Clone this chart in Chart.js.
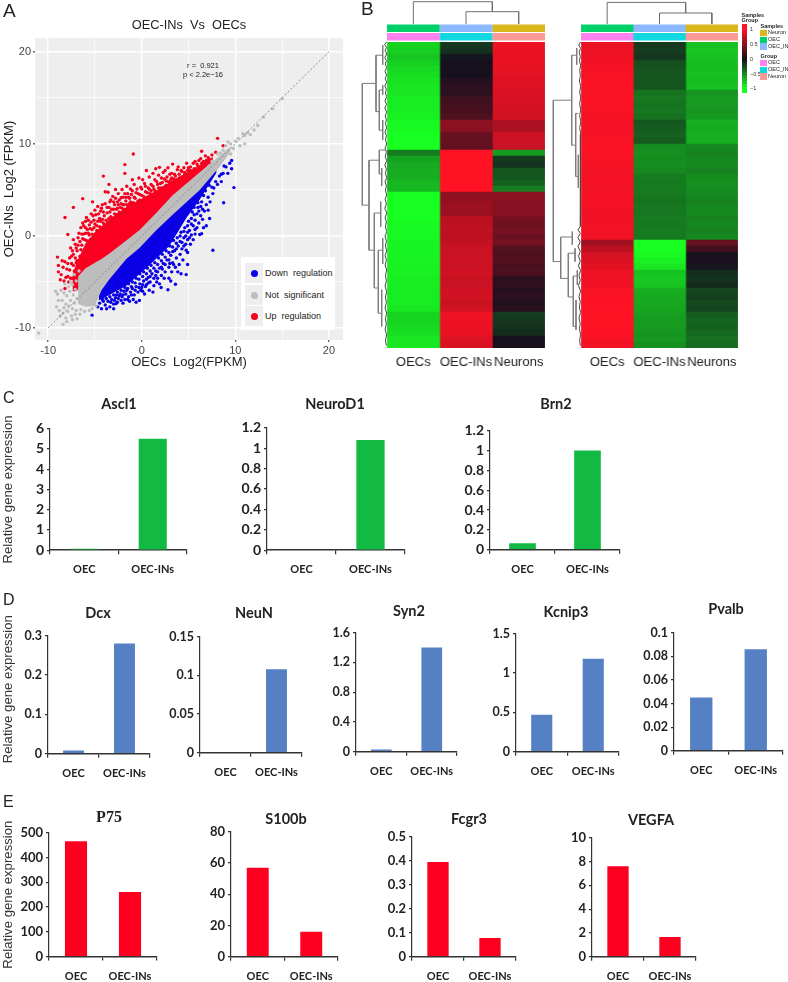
<!DOCTYPE html>
<html>
<head>
<meta charset="utf-8">
<script src="https://cdn.jsdelivr.net/npm/chart.js@4/dist/chart.umd.js"></script>
<style>
  html, body { margin: 0; padding: 0; background: #fff; overflow: hidden; }
  #page { position: relative; width: 788px; height: 982px; font-family: "Liberation Sans", Arial, sans-serif; }
  canvas { position: absolute; }
  .txt { position: absolute; white-space: pre; color: #222; line-height: 1; }
  .tile { position: absolute; }
</style>
</head>
<body>
<div id="page"></div>
<script>
// ---- panel A values (log2 FPKM)
const scatterTicks = [-10, -5, 0, 5, 10, 15, 20];
const diagonal = [[-10, -10], [20, 20]];
const redBandX = [-7.4, -7, -6, -5, -4, -2.7, -1, 1, 3, 5, 6.2, 7.6];
const redBandTop = [-4.3, -3, -0.8, 0.4, 1.3, 2.4, 3.5, 4.6, 5.8, 7, 7.7, 8.6];
const redBandBottom = [-6, -6, -5, -4, -3.2, -2, -0.5, 1, 3, 5, 6.2, 7.6];
const blueBandX = [-4.6, -3.8, -1.65, 0.8, 2.95, 4.8, 6.17, 8];
const blueBandTop = [-5.5, -4.5, -2, 0.5, 2.7, 4.5, 5.9, 7.7];
const blueBandBottom = [-7, -6.6, -5.4, -3.2, -1.1, 2, 3.9, 6.9];
const grayBandX = [-6.8, -6, -5, -4.3, -3.45, -1.65, -0.25, 1.55, 3.3, 6.17, 8.3, 9.5];
const grayBandTop = [-4.4, -3.5, -2.9, -2.5, -1.9, -0.5, 0.62, 2.5, 4.42, 6.9, 8.7, 9.7];
const grayBandBottom = [-7.4, -7.7, -7.6, -5.9, -4.7, -2.5, -1.3, 0.62, 2.3, 4.97, 7.5, 9.2];

const upPoints = [
  [8.1,10.6],[8.7,9.8],[6.4,9.2],[-0.9,8.9],[7.5,8.8],[7.1,8.5],[-1.8,7.75],[-1.8,6.8],[-4.1,6.5],[-3.5,5.6],
  [-6.3,4.05],[-5.25,3.7],[-7.3,3.1],[-8.2,2],[-7.9,0.15],[-7.3,-0.4],[-9,-2.3],[-8.5,-2.7],[-8.9,-3.9],[-8.7,-4.75],
  [-8.2,-5.7],[-8.9,-3.2],[-8.6,-4.2],[-8.4,-3.4],[-8.2,-2.8],[-8,-3.6],[-7.9,-4.4],[-7.7,-2.4],[-7.6,-1.3],[-7.5,-3],
  [-7.3,-2],[-7.2,-3.8],[-7.1,-0.9],[-7,-2.9],[-6.9,-1.6],[-6.8,-0.2],[-6.7,-3.4],[-6.6,-2.2],[-6.5,0.9],[-6.4,-1],
  [-6.3,1.4],[-6.3,-2.6],[-6.2,0.2],[-6.1,-1.6],[-6,0.9],[-6,1.6],[-5.9,-0.5],[-5.8,-1.8],[-5.7,0.3],[-5.6,1.2],
  [-5.5,-1.1],[-5.4,2.4],[-5.3,0.7],[-5.2,-0.3],[-5.1,1.7],[-5,2.8],[-5,0.2],[-4.9,-0.6],[-4.8,1.1],[-4.7,3.2],
  [-4.6,0.5],[-4.5,1.9],[-4.4,2.7],[-4.3,0.9],[-4.2,3.4],[-4.1,1.4],[-4,2.2],[-3.9,4.8],[-3.8,1.1],[-3.7,3.1],
  [-3.6,4.75],[-3.5,1.9],[-3.4,2.6],[-3.3,3.9],[-3.2,1.6],[-3.1,4.3],[-3,2.9],[-2.9,3.4],[-2.8,5.05],[-2.7,2.3],
  [-2.6,3.7],[-2.5,4.6],[-2.4,2.6],[-2.3,3.1],[-2.2,4.15],[-2.1,5.05],[-2,3.4],[-1.9,2.7],[-1.8,4.6],[-1.7,3.8],
  [-1.6,5.4],[-1.5,3.1],[-1.4,4.2],[-1.3,3.5],[-1.2,5.1],[-1.1,4.5],[-1,6.1],[-0.9,3.6],[-0.8,5.6],[-0.7,4.1],
  [-0.6,3.3],[-0.5,5.1],[-0.4,4.6],[-0.3,6.3],[-0.2,3.9],[-0.1,5.3],[0,4.4],[0.1,6.1],[0.2,3.8],[0.3,5.7],
  [0.4,4.8],[0.5,7.1],[0.6,4.2],[0.7,5.2],[0.8,6.4],[0.9,4.6],[1,5.6],[1.1,4.2],[1.2,6.8],[1.3,5.1],
  [1.4,6.1],[1.5,7.3],[1.6,4.6],[1.7,5.6],[1.8,6.6],[1.9,7.45],[2,5.2],[2.1,6.3],[2.2,5.8],[2.3,6.9],
  [2.4,5.3],[2.5,7.1],[2.6,6],[2.7,6.4],[2.8,7.4],[2.9,5.5],[3,6.7],[3.1,6.1],[3.2,6.3],[3.3,7.8],
  [3.4,5.9],[3.5,6.7],[3.6,6.5],[3.8,7.2],[3.9,7.5],[4,6.3],[4.2,7.1],[4.3,7],[4.5,7.4],[4.6,6.9],
  [4.8,7.9],[5,7.4],[5.2,7.5],[5.5,7.9],[5.7,8.1],[5.9,7.8],[6.1,8.2],[6.3,8.4],[6.6,8.1],[6.8,8.7],
  [-7.8,-5],[-7.4,-4.6],[-7.1,-5],[-6.9,-4.1],[-6.6,-4.2],[-6.4,-3.6],[-6.2,-3.1],[-5.9,-2.9],[-5.7,-1.4],[-5.5,-0.4],
  [-8.3,-4.9],[-8.1,-4.5],[-7.9,-3],[-7.7,-3.7],[-7.6,-4.6],[-7.5,-2.2],[-7.4,-1.6],[-7.3,-3.2],[-7.1,-2.4],[-7,-1.3],
  [-6.9,-2.7],[-6.8,-1],[-6.7,0.3],[-6.6,-0.6],[-6.5,-1.5],[-6.4,0.2],[-6.3,-0.3],[-6.2,1.1],[-6.1,-0.4],[-6,0.3],
  [-5.9,2],[-5.8,0.7],[-5.7,1.7],[-5.6,0.1],[-5.5,0.8],[-5.4,1.5],[-5.3,0.2],[-5.2,2.2],[-5.1,0.9],[-5,1.3],
  [-4.9,2.3],[-4.8,0.6],[-4.7,1.6],[-4.6,2.4],[-4.5,1],[-4.4,1.6],[-4.3,3],[-4.2,1.8],[-4.1,2.6],[-4,1.2],
  [-3.9,3.5],[-3.8,1.7],[-3.7,2.5],[-3.6,1.5],[-3.5,3.1],[-3.4,3.7],[-3.3,2.1],[-3.2,2.9],[-3.1,1.9],[-3,3.7],
  [-2.9,2.4],[-2.8,4.1],[-2.7,2.9],[-2.6,3],[-2.5,3.4],[-2.4,3.9],[-2.3,2.4],[-2.2,3.5],[-2.1,3],[-2,4.2],
  [-1.9,3.4],[-1.8,2.9],[-1.7,4.2],[-1.6,3.4],[-1.5,4.6],[-1.4,3.2],[-1.3,4.1],[-1.2,3.7],[-1.1,3.5],[-1,4.9],
  [-0.8,4.2],[-0.6,4.7],[-0.4,3.8],[-0.2,4.5],[0,5.1],[0.2,4.3],[0.4,5.4],[0.6,4.7],[0.8,5.1],[1,4.9],
  [1.2,5.4],[1.4,4.9],[1.6,5.9],[1.8,5.2],[2,5.7],[2.2,5.2],[2.4,6.2],[2.6,5.5],[2.8,5.9],[3,5.8],
  [3.2,6.8],[3.4,6.2],[3.7,6.1],[4,6.7],[4.3,6.4],[4.6,6.7],[4.9,7.1],[5.2,7.1],[5.6,7.3],[6,7.6],[6.4,7.9],[6.9,8.2],[7.2,8.3],[7.9,9.1]
];
const downPoints = [
  [9.85,5.25],[8.75,3.6],[7.6,-1.55],[9.6,8.2],[9.4,7.9],[9.6,7.3],[9,7.5],[8.7,6.8],[9.2,6.8],[8.5,5.9],
  [7.6,4.6],[7.1,2.8],[7.25,1.9],[6.4,0.25],[6.2,0.15],[4.9,-1.8],[4.75,-1.55],[4.9,-3.1],[4.75,-4.2],[4.2,-4.1],
  [3.85,-3.9],[3.6,-5.25],[2.8,-5.85],[1.9,-5.2],[2.07,-5.6],[0.1,-6],[-0.25,-7],[-0.6,-7.2],[-2.75,-7.35],[-3.75,-7.9],
  [-4.7,-7.7],[-5.3,-8.6],[-4.5,-7.3],[-4.3,-7.9],[-4.1,-7.1],[-3.9,-7.5],[-3.6,-7.1],[-3.4,-7.7],[-3.2,-6.9],[-3,-7.4],
  [-2.8,-6.7],[-2.6,-7.2],[-2.4,-6.5],[-2.2,-7],[-2,-6.4],[-1.8,-6.9],[-1.6,-5.9],[-1.4,-6.6],[-1.2,-6.1],[-1,-5.7],
  [-0.8,-6.4],[-0.6,-5.5],[-0.4,-6.1],[-0.2,-5.2],[0,-5.6],[0.2,-4.9],[0.3,-6.3],[0.5,-5.3],[0.7,-4.5],[0.9,-5],
  [1.1,-4.1],[1.3,-5.4],[1.5,-3.8],[1.7,-4.6],[1.9,-3.5],[2.1,-4.3],[2.3,-3],[2.5,-3.9],[2.7,-2.6],[2.9,-3.4],
  [3.1,-2.1],[3.3,-2.9],[3.5,-1.6],[3.7,-2.4],[3.9,-1.1],[4.1,-2],[4.3,-0.7],[4.5,-1.1],[4.7,0],[4.9,-0.4],
  [5.1,0.6],[5.3,0.1],[5.5,1.1],[5.7,1.7],[5.9,0.9],[6.1,1.4],[6.3,2.2],[6.5,1.8],[6.7,2.7],[6.9,3.4],
  [7.1,4.2],[7.3,3.7],[7.5,5.3],[7.7,5.2],[7.9,5.9],[8.1,5.6],[8.3,6.5],[8.5,6.7],[8.8,7.6],[5.4,2.6],
  [5,1.6],[4.6,0.9],[4.2,0.4],[3.8,-0.2],[3.4,-0.5],[3,-1.1],[2.6,-1.6],[2.2,-2],[1.8,-2.4],[1.4,-2.9],
  [1,-3.2],[0.6,-3.5],[0.2,-3.9],[-0.2,-4.1],[-0.6,-4.6],[-1,-5],[-1.4,-5.2],[-1.8,-5.6],[-2.2,-5.9],[-2.6,-6.1],
  [-3,-6.4],[-3.4,-6.6],[-3.8,-6.8],[-4.2,-6.9],[5.6,3.1],[6,3.6],[6.4,3.7],[6.8,4.9],[7.2,5.5],[6.6,4.4],
  [5.2,-0.9],[4.4,-2.6],[3.2,-3.9],[2.4,-4.6],[1.6,-5],[3.4,-3.1],[2.9,-4.6],[0.8,-5.9],[1.2,-6.1],[-1.3,-7.1],
  [-2,-7.3],[-3,-7.9],[-0.9,-6.9],[0.4,-5.5],[3.1,-4.9],[5.5,-0.4],[6.6,0.9],[4,-3.1],[5.9,2.4],[6.9,1.1],
  [-3.3,-7.2],[-2.9,-7],[-2.5,-6.8],[-2.1,-6.6],[-1.7,-6.3],[-1.5,-6.9],[-1.1,-6.4],[-0.7,-5.9],[-0.3,-5.6],[0.1,-5.3],
  [0.5,-4.7],[0.9,-4.4],[1.3,-4.6],[1.7,-3.9],[2.1,-3.4],[2.5,-3.1],[2.9,-2.6],[3.3,-1.7],[3.7,-1.4],[4.1,-0.6],
  [4.5,-0.2],[4.9,0.4],[5.3,1.3],[5.7,0.7],[6.1,2.7],[6.5,2.9],[-2.7,-6.4],[-2.3,-6.3],[-1.9,-6],[-1.5,-5.7],
  [-1.1,-5.5],[-0.7,-5.1],[-0.3,-4.7],[0.1,-4.4],[0.5,-4.1],[0.9,-3.8],[1.3,-3.5],[1.7,-3.1],[2.1,-2.7],[2.5,-2.3],
  [2.9,-1.8],[3.3,-1.2],[3.7,-0.8],[4.1,0],[4.5,0.5],[4.9,1.1],[5.3,1.9],[5.6,2.3],[6,3.1],[6.3,3.2],
  [3.6,-3.4],[3,-3],[2.2,-3.6],[1.5,-4.3],[0.7,-5.1],[-0.1,-5.9],[4.3,-1.4],[4.7,-0.9],[5.1,-0.2],[5.7,0.2]
];
const flatPoints = [
  [-11,-10.55],[-9,-6.3],[-9.2,-6],[-8.9,-7],[-8.5,-7],[-8.8,-8.1],[-8.3,-6.2],[-8.1,-7.4],[-8.6,-5.9],[-8,-6.5],
  [-9.1,-7.7],[-8.4,-8.4],[-8.7,-8.7],[-8.1,-8.9],[-7.9,-8.2],[-7.5,-8.7],[-7.1,-8.5],[-7.8,-5.5],[-7.6,-5],[-6.6,-8.5],
  [-6.1,-8.2],[-5.6,-8.1],[-5.3,-7.9],[-4.9,-7.6],[-6.9,-9],[-7.4,-9.1],[-8,-9.3],[-8.4,-9.6],[-7.2,-4.2],[-6.7,-3.8],
  [-7.7,-6],[-7.4,-5.3],[-7.3,-6.4],[-7.1,-5.8],[-7.6,-7],[-7.2,-7.3],[-7.8,-7.6],[-7,-4.9],[-7.4,-7.9],[-6.9,-6.8],
  [-8.2,-5.2],[-8.3,-7.8],[-7,-8.1],[-6.5,-8],
  [10,10.3],[11,10.9],[10.5,9.8],[11,10],[11.3,11.2],[10.8,11.1],[9,9.8],[9.5,10],[9.2,9],[9.8,9.5],
  [12,11.5],[11.6,11],[9.2,10.2],[8.7,9.3],[8.9,8.6],[13,12.9],[10.3,10.6],[12.4,12],[9.5,8.9],[8.6,8.4],
  [8.4,9],[8.1,8.9],[7.9,8],[7.5,8.1],[7.2,7.6],[14,13.8],[15,14.9]
];

// ---- panel B values, row z scores per column
const leftRowsOec = [-0.82,-0.8,-0.76,-0.8,-0.84,-0.86,-0.88,-0.9,-0.9,-0.92,-0.92,-0.93,-0.94,-0.97,-0.98,-1,-1,-1,-0.45,-0.62,-0.64,-0.66,-0.66,-0.7,-0.7,-1,-1,-1,-1,-1,-0.98,-0.98,-0.97,-0.96,-0.96,-0.95,-0.95,-0.94,-0.94,-0.93,-0.93,-0.92,-0.92,-0.92,-0.91,-0.82,-0.82,-0.84,-0.86,-0.9,-0.9];
const leftRowsIns = [-0.16,-0.14,-0.03,0,0.02,0.01,0.07,0.1,0.1,0.17,0.2,0.22,0.25,0.52,0.5,0.36,0.34,0.33,1,1,1,1,1,1,1,0.52,0.55,0.58,0.56,0.7,0.72,0.73,0.72,0.74,0.78,0.77,0.79,0.78,0.8,0.78,0.77,0.79,0.8,0.78,0.8,0.93,0.92,0.92,0.9,0.86,0.84];
const leftRowsNeu = [0.92,0.91,0.9,0.9,0.89,0.89,0.86,0.86,0.84,0.83,0.82,0.8,0.8,0.66,0.64,0.78,0.78,0.77,-0.58,-0.18,-0.14,-0.28,-0.3,-0.34,-0.46,0.52,0.5,0.48,0.5,0.42,0.38,0.42,0.36,0.4,0.26,0.24,0.27,0.22,0.24,0.1,0.12,0.08,0.1,0.06,0.08,-0.18,-0.16,-0.14,-0.12,0,0.02];
const rightRowsOec = [0.9,0.92,0.94,0.95,0.96,0.97,0.98,0.98,0.97,0.98,0.98,0.97,0.96,0.96,0.95,0.96,0.97,0.98,0.98,0.97,0.96,0.95,0.95,0.96,0.95,0.96,0.96,0.95,0.94,0.94,0.95,0.95,0.94,0.6,0.72,0.82,0.85,0.88,0.93,0.94,0.95,0.97,0.98,0.99,1,1,1,1,0.98,0.97,0.95];
const rightRowsIns = [-0.17,-0.19,-0.16,-0.26,-0.28,-0.3,-0.29,-0.28,-0.42,-0.44,-0.42,-0.44,-0.4,-0.3,-0.32,-0.34,-0.31,-0.52,-0.54,-0.52,-0.53,-0.5,-0.45,-0.44,-0.45,-0.44,-0.42,-0.44,-0.43,-0.45,-0.44,-0.45,-0.44,-1,-1,-0.98,-0.94,-0.9,-0.75,-0.77,-0.76,-0.66,-0.64,-0.63,-0.62,-0.6,-0.58,-0.58,-0.56,-0.57,-0.54];
const rightRowsNeu = [-0.74,-0.76,-0.75,-0.73,-0.72,-0.74,-0.72,-0.74,-0.56,-0.58,-0.58,-0.56,-0.58,-0.66,-0.64,-0.66,-0.66,-0.5,-0.48,-0.5,-0.5,-0.48,-0.52,-0.54,-0.52,-0.5,-0.48,-0.5,-0.5,-0.48,-0.5,-0.48,-0.5,0.35,0.2,0.02,0.03,-0.02,-0.12,-0.15,-0.11,-0.22,-0.2,-0.24,-0.22,-0.32,-0.35,-0.33,-0.37,-0.4,-0.38];
const heatColumns = ['OECs', 'OEC-INs', 'Neurons'];
const colorbarLevels = [-1.14,-1.05,-0.95,-0.85,-0.75,-0.65,-0.55,-0.45,-0.35,-0.25,-0.15,-0.05,0.05,0.15,0.25,0.35,0.45,0.55,0.65,0.75,0.85,0.95,1.05,1.2];
const colorbarTicks = [-1, -0.5, 0, 0.5, 1];

// dendrograms: polylines as [depth, row], null breaks a line
const leftRowTree = [
  [24.7,6.9],[11,6.9],null,[24.7,6.9],[24.7,27.2],[18,27.2],null,
  [11,2.2],[11,11.6],null,[11,2.2],[4.3,2.2],null,[4.3,0.5],[4.3,3.8],null,[11,11.6],[7.7,11.6],null,
  [7.7,8],[7.7,14.7],null,[7.7,8],[4.3,8],null,[4.3,7.2],[4.3,8.8],null,[7.7,14.7],[4.3,14.7],null,[4.3,13],[4.3,16.3],null,
  [18,19.7],[18,34.7],null,[18,19.7],[7.7,19.7],null,[7.7,18],[7.7,22],null,[7.7,18],[1,18],null,[7.7,22],[5.3,22],null,[5.3,21],[5.3,24],null,
  [18,34.7],[12.7,34.7],null,[12.7,28.5],[12.7,41],null,[12.7,28.5],[6.3,28.5],null,[6.3,26.6],[6.3,30.8],null,
  [12.7,41],[8.7,41],null,[8.7,34.7],[8.7,45.2],null,[8.7,34.7],[4.3,34.7],null,[4.3,32.7],[4.3,37],null,[8.7,45.2],[5.3,45.2],null,[5.3,41.3],[5.3,47.4]
];
const rightRowTree = [
  [27.7,9.7],[9.3,9.7],null,[27.7,9.7],[27.7,36.6],[20.3,36.6],null,
  [9.3,2.2],[9.3,17.2],null,[9.3,2.2],[4.3,2.2],null,[4.3,1],[4.3,3.8],null,[9.3,17.2],[5.3,17.2],null,
  [5.3,11.9],[5.3,22.4],null,[5.3,11.9],[2.7,11.9],null,[5.3,22.4],[2.7,22.4],null,[2.7,18.8],[2.7,24.3],null,
  [20.3,32.5],[20.3,39.4],null,[20.3,32.5],[8.7,32.5],null,[8.7,31.6],[8.7,33.8],null,[20.3,39.4],[12.7,39.4],null,
  [12.7,35.2],[12.7,42.5],null,[12.7,35.2],[6,35.2],null,[6,34.4],[6,36.6],null,[12.7,42.5],[7.7,42.5],null,
  [7.7,39],[7.7,47.4],null,[7.7,39],[3.7,39],null,[3.7,38],[3.7,40.5],null,[7.7,47.4],[5,47.4],null,[5,43],[5,48]
];
const leftFringe = [[0.5,0],[2.4,0.4],[0.5,0.9],[1.8,1.4],[0.3,2],[2.2,2.6],[0.6,3.1],[1.6,3.7],[0.3,4.3],[2,4.9],[0.5,5.5],[1.8,6.1],[0.3,6.7],[2.2,7.3],[0.6,7.9],[1.6,8.5],[0.3,9.1],[2,9.8],[0.5,10.4],[2.2,11],[0.3,11.7],[1.8,12.3],[0.6,13],[1.6,13.6],[0.3,14.3],[2,15],[0.5,15.6],[1.6,16.3],[0.3,17],[1.9,17.7],[0.6,18.4],[1.8,19.1],[0.3,19.8],[2.2,20.5],[0.6,21.2],[1.6,21.9],[0.3,22.6],[1.9,23.3],[0.6,24],[1.6,24.7],[0.3,25.5],[1.9,26.2],[0.6,27],[2.2,27.7],[0.3,28.5],[1.9,29.3],[0.6,30],[1.6,30.8],[0.3,31.6],[1.9,32.4],[0.6,33.2],[1.6,34],[0.3,34.8],[1.9,35.6],[0.6,36.4],[1.9,37.2],[0.3,38],[1.6,38.9],[0.6,39.8],[1.9,40.7],[0.3,41.6],[1.6,42.5],[0.6,43.4],[1.9,44.3],[0.3,45.2],[1.6,46.1],[0.6,47],[1.9,47.9],[0.3,48.8],[1.6,49.7],[0.6,50.6]];
const rightFringe = [[0.5,0],[2.2,0.5],[0.4,1.1],[1.9,1.7],[0.6,2.4],[1.6,3.1],[0.3,3.9],[1.3,4.7],[0.6,5.6],[1.6,6.5],[0.3,7.4],[1.3,8.3],[0.3,9.3],[1.3,10.3],[0.3,11.3],[1.3,12.3],[0.2,13.3],[1.3,14.3],[0.2,15.3],[1,16.5],[0.2,17.7],[1,18.7],[0.2,19.7],[1,20.7],[0.2,21.7],[1,22.7],[0.2,23.7],[1,24.7],[0.2,25.7],[1,27.2],[0.2,28.7],[1,29.7],[0.4,30.7],[3,31.3],[0.7,31.9],[3.2,32.6],[0.7,33.3],[3,34.1],[0.7,34.9],[2.5,35.7],[0.7,36.5],[2.5,37.3],[0.4,38.1],[2,38.9],[0.7,39.7],[2.5,40.6],[0.4,41.5],[2,42.4],[0.7,43.3],[1.6,44.2],[0.4,45.1],[2,46],[0.7,46.9],[1.6,47.8],[0.4,48.7],[1.3,49.7],[0.7,50.6]];
const leftColumnTree = [[0.5,0],[0.5,22.3],[2,22.3],[2,12.3],null,[1.5,0],[1.5,12.3],[2.5,12.3],[2.5,0]];
const rightColumnTree = [[0.5,0],[0.5,21.6],[2,21.6],[2,11],null,[1.5,0],[1.5,11],[2.5,11],[2.5,0]];

// ---- panels C, D, E values
const barCategories = ['OEC', 'OEC-INs'];
const ascl1Values = [0.07, 5.5];       const ascl1Ticks = [0, 1, 2, 3, 4, 5, 6];
const neurod1Values = [0, 1.08];       const neurod1Ticks = [0, 0.2, 0.4, 0.6, 0.8, 1, 1.2];
const brn2Values = [0.065, 1];         const brn2Ticks = [0, 0.2, 0.4, 0.6, 0.8, 1, 1.2];
const dcxValues = [0.008, 0.28];       const dcxTicks = [0, 0.1, 0.2, 0.3];
const neunValues = [0, 0.108];         const neunTicks = [0, 0.05, 0.1, 0.15];
const syn2Values = [0.03, 1.4];        const syn2Ticks = [0, 0.4, 0.8, 1.2, 1.6];
const kcnip3Values = [0.47, 1.18];     const kcnip3Ticks = [0, 0.5, 1, 1.5];
const pvalbValues = [0.045, 0.086];    const pvalbTicks = [0, 0.02, 0.04, 0.06, 0.08, 0.1];
const p75Values = [465, 260];          const p75Ticks = [0, 100, 200, 300, 400, 500];
const s100bValues = [57, 16];          const s100bTicks = [0, 20, 40, 60, 80];
const fcgr3Values = [0.395, 0.078];    const fcgr3Ticks = [0, 0.1, 0.2, 0.3, 0.4, 0.5];
const vegfaValues = [7.6, 1.65];       const vegfaTicks = [0, 2, 4, 6, 8, 10];

Chart.defaults.animation = false;
Chart.defaults.responsive = false;
Chart.defaults.devicePixelRatio = 1;
Chart.defaults.plugins.legend.display = false;
Chart.defaults.plugins.tooltip.enabled = false;

const page = document.getElementById('page');
const NARROW = 'Lato, "Liberation Sans", sans-serif';
const ARIAL = '"Liberation Sans", Arial, sans-serif';

function addCanvas(left, top, width, height) {
  const c = document.createElement('canvas');
  c.width = width; c.height = height;
  c.style.left = left + 'px'; c.style.top = top + 'px';
  c.style.width = width + 'px'; c.style.height = height + 'px';
  page.appendChild(c);
  return c;
}
function addText(text, x, y, size, opts) {
  opts = opts || {};
  const d = document.createElement('div');
  d.className = 'txt';
  d.textContent = text;
  d.style.left = x + 'px'; d.style.top = (y - size / 2) + 'px';
  d.style.fontSize = size + 'px';
  if (opts.bold) d.style.fontWeight = 'bold';
  if (opts.color) d.style.color = opts.color;
  if (opts.center) d.style.transform = 'translateX(-50%)';
  page.appendChild(d);
}
function addTile(x, y, w, h, color, round) {
  const d = document.createElement('div');
  d.className = 'tile';
  d.style.cssText = `left:${x}px;top:${y}px;width:${w}px;height:${h}px;background:${color};` + (round ? 'border-radius:50%;' : '');
  page.appendChild(d);
}
const toXY = (p) => p ? { x: p[0], y: p[1] } : { x: null, y: null };
// empty axis on the right: keeps the plot narrow while the title stays centred on the whole canvas
const spacerAxis = (w) => ({
  position: 'right', min: 0, max: 1,
  afterFit(s) { s.width = w; s.paddingTop = 0; s.paddingBottom = 0; },
  ticks: { display: false }, grid: { display: false }, border: { display: false }
});

// ---- panel A
const panelFill = {
  id: 'panelFill',
  beforeDraw(chart) {
    const a = chart.chartArea, c = chart.ctx;
    c.save(); c.fillStyle = '#eeeeee';
    c.fillRect(a.left, a.top, a.right - a.left, a.bottom - a.top);
    c.restore();
  }
};
const band = (xs, ys, fill, color, order) => ({
  data: xs.map((x, i) => ({ x, y: ys[i] })), showLine: true, pointRadius: 0, borderWidth: 0,
  borderColor: color, backgroundColor: color, fill, order
});
const dots = (pts, color, order) => ({
  data: pts.map(toXY), pointRadius: 1.7, pointBorderWidth: 0, pointBackgroundColor: color, order
});
const scatterAxis = (min, max, titleText, titlePad) => ({
  type: 'linear', min, max,
  afterBuildTicks: (axis) => { axis.ticks = scatterTicks.map((v) => ({ value: v })); },
  ticks: { autoSkip: false, maxRotation: 0, padding: 2, color: '#444', font: { size: 11, family: ARIAL },
    callback: (v) => (v % 10 === 0 ? String(v) : '') },
  grid: { color: '#ffffff', lineWidth: (c) => (c.tick && c.tick.value % 10 === 0 ? 1.4 : 0.7),
    tickLength: 2, tickColor: (c) => (c.tick && c.tick.value % 10 === 0 ? '#666' : 'rgba(0,0,0,0)') },
  border: { display: false },
  title: { display: true, text: titleText, color: '#222', padding: titlePad, font: { size: 13, family: ARIAL } }
});
new Chart(addCanvas(0, 18, 378, 352), {
  type: 'scatter',
  data: { datasets: [
    { data: diagonal.map(toXY), showLine: true, pointRadius: 0, borderColor: '#8a8a8a', borderWidth: 1, borderDash: [2, 2], order: 0 },
    dots(flatPoints, '#bdbdbd', 1),
    band(grayBandX, grayBandTop, '+1', '#bdbdbd', 2),
    band(grayBandX, grayBandBottom, false, '#bdbdbd', 3),
    dots(upPoints, '#f5001e', 4),
    dots(downPoints, '#0a00e6', 5),
    band(redBandX, redBandTop, '+1', '#fb0020', 6),
    band(redBandX, redBandBottom, false, '#fb0020', 7),
    band(blueBandX, blueBandTop, '+1', '#0a00e6', 8),
    band(blueBandX, blueBandBottom, false, '#0a00e6', 9)
  ] },
  options: {
    plugins: { title: { display: true, text: 'OEC-INs  Vs  OECs', color: '#222', padding: { top: 0, bottom: 4.6 }, font: { size: 12.8, weight: 'normal', family: ARIAL } } },
    scales: {
      x: Object.assign(scatterAxis(-11.4, 21.5, 'OECs  Log2(FPKM)', { top: 3, bottom: 0 }), { afterFit(s) { s.height = 30; s.paddingLeft = 0; s.paddingRight = 0; } }),
      y: Object.assign(scatterAxis(-11.3, 21.5, 'OEC-INs  Log2 (FPKM)', { top: 2, bottom: 2 }), { afterFit(s) { s.width = 35; s.paddingTop = 0; s.paddingBottom = 0; } }),
      y2: spacerAxis(35)
    }
  },
  plugins: [panelFill]
});
addText('r =  0.921', 203, 65.5, 7.5, { center: true });
addText('p < 2.2e\u221216', 203, 75, 7.5, { center: true });
addTile(241, 257, 94, 73, '#ffffff');
[[273, '#0a00e6', 'Down  regulation'], [295, '#bdbdbd', 'Not  significant'], [316, '#f5001e', 'Up  regulation']].forEach((r) => {
  addTile(245, r[0] - 10, 18, 20, '#eeeeee');
  addTile(250.5, r[0] - 3.5, 7, 7, r[1], true);
  addText(r[2], 265, r[0], 9);
});

// ---- panel B
function mix(a, b, t) { return a.map((v, i) => Math.round(v + (b[i] - v) * t)); }
function heatColor(z) {
  const t = Math.min(Math.abs(z), 1);
  const c = z < 0 ? mix([20, 16, 30], [24, 255, 34], t) : mix([20, 16, 30], [255, 18, 36], t);
  return `rgb(${c[0]},${c[1]},${c[2]})`;
}
function heatmap(left, width, columns) {
  const pad = 12;
  new Chart(addCanvas(left - pad, 42, width + pad * 2, 326), {
    type: 'bar',
    data: {
      labels: columns[0].map((_, i) => i),
      datasets: columns.map((col) => ({
        data: col.map(() => 1), backgroundColor: col.map(heatColor),
        barPercentage: 1, categoryPercentage: 1, borderWidth: 0
      }))
    },
    options: {
      indexAxis: 'y',
      layout: { padding: { left: pad, right: pad } },
      scales: {
        y: { stacked: true, display: false },
        x: { stacked: true, type: 'linear', min: 0, max: 3,
          afterBuildTicks: (axis) => { axis.ticks = [0.5, 1.5, 2.5].map((v) => ({ value: v })); },
          afterFit(s) { s.height = 20; s.paddingLeft = 0; s.paddingRight = 0; },
          ticks: { autoSkip: false, maxRotation: 0, padding: 7, color: '#222', font: { size: 13, family: ARIAL },
            callback: (v) => heatColumns[Math.floor(v)] },
          grid: { display: false, drawTicks: false }, border: { display: false } }
      }
    }
  });
}
heatmap(387, 157.5, [leftRowsOec, leftRowsIns, leftRowsNeu]);
heatmap(581, 156.5, [rightRowsOec, rightRowsIns, rightRowsNeu]);

function annotation(left, width) {
  const rows = ['Samples', 'Group'];
  const colours = [['#00d26a', '#ff80f0'], ['#8cb8ff', '#10d8e0'], ['#d9b81c', '#ff9a94']];
  new Chart(addCanvas(left, 24, width, 17), {
    type: 'bar',
    data: { labels: rows, datasets: colours.map((c) => ({ data: [1, 1], backgroundColor: c, barPercentage: 0.9, categoryPercentage: 1 })) },
    options: { indexAxis: 'y', scales: { y: { stacked: true, display: false }, x: { stacked: true, min: 0, max: 3, display: false } } }
  });
}
annotation(387, 157.5);
annotation(581, 156.5);

function treeChart(left, top, w, h, lines, xOpts, yOpts) {
  new Chart(addCanvas(left, top, w, h), {
    type: 'scatter',
    data: { datasets: lines.map((l) => ({
      data: l.pts.map(toXY), showLine: true, spanGaps: false, pointRadius: 0,
      borderColor: l.color, borderWidth: l.width
    })) },
    options: { clip: false, scales: {
      x: Object.assign({ type: 'linear', display: false }, xOpts),
      y: Object.assign({ type: 'linear', display: false }, yOpts)
    } }
  });
}
treeChart(387, 0, 158, 24, [{ pts: leftColumnTree, color: '#6f6f6f', width: 1 }], { min: 0, max: 3 }, { min: 0, max: 24 });
treeChart(581, 0, 157, 24, [{ pts: rightColumnTree, color: '#6f6f6f', width: 1 }], { min: 0, max: 3 }, { min: 0, max: 24 });
treeChart(357, 42, 30, 306, [{ pts: leftRowTree, color: '#7d7d7d', width: 1 }, { pts: leftFringe, color: '#444', width: 1 }],
  { min: 0, max: 30, reverse: true }, { min: 0, max: 51, reverse: true });
treeChart(551, 42, 30, 306, [{ pts: rightRowTree, color: '#7d7d7d', width: 1 }, { pts: rightFringe, color: '#444', width: 1 }],
  { min: 0, max: 30, reverse: true }, { min: 0, max: 51, reverse: true });

// colour key
new Chart(addCanvas(742, 18, 24, 81), {
  type: 'bar',
  data: { labels: [''], datasets: colorbarLevels.slice(0, -1).map((lo, i) => ({
    data: [[lo, colorbarLevels[i + 1]]], backgroundColor: heatColor((lo + colorbarLevels[i + 1]) / 2),
    barPercentage: 1, categoryPercentage: 1, grouped: false
  })) },
  options: {
    layout: { padding: { top: 6, bottom: 6 } },
    scales: {
      x: { display: false, stacked: false },
      y: { position: 'right', min: -1.14, max: 1.2,
        afterBuildTicks: (axis) => { axis.ticks = colorbarTicks.map((v) => ({ value: v })); },
        afterFit(s) { s.width = 19; s.paddingTop = 0; s.paddingBottom = 0; },
        ticks: { padding: 3, color: '#333', font: { size: 5.5, family: ARIAL }, callback: (v) => (v < 0 ? '\u2212' + Math.abs(v) : String(v)) },
        grid: { drawOnChartArea: false, tickLength: 0 }, border: { display: false } }
    }
  }
});
addText('Samples', 741.5, 15.5, 5.5, { bold: true });
addText('Group', 741.5, 21, 5.5, { bold: true });
addText('Samples', 760.5, 26.5, 5.5, { bold: true });
addText('Group', 760.5, 56.5, 5.5, { bold: true });
[[30, '#d9b81c', 'Neuron'], [36.7, '#00d26a', 'OEC'], [43.3, '#8cb8ff', 'OEC_INs'], [60, '#ff80f0', 'OEC'], [66.7, '#10d8e0', 'OEC_INs'], [73.3, '#ff9a94', 'Neuron']].forEach((r) => {
  addTile(760, r[0], 7, 6.4, r[1]);
  addText(r[2], 768, r[0] + 3.2, 5.5);
});

// ---- panels C, D, E: one small bar chart per gene
function geneChart(cfg) {
  const { values, ticks, title, color, axisX, right, top, zero, titleX, titleY, titleFont, tickSize, yTitle } = cfg;
  const left = cfg.first ? 0 : axisX - 46;
  const width = Math.round(2 * (titleX - left));
  const lineH = titleFont.size * 1.2;
  const canvasTop = titleY - lineH / 2;
  const xH = 30;
  const height = Math.round(zero + xH - canvasTop);
  new Chart(addCanvas(left, canvasTop, width, height), {
    type: 'bar',
    data: { labels: barCategories, datasets: [{ data: values, backgroundColor: color, barPercentage: 0.41, categoryPercentage: 1 }] },
    options: {
      plugins: { title: { display: true, text: title, color: '#222', padding: { top: 0, bottom: top - canvasTop - lineH }, font: titleFont } },
      scales: {
        x: {
          afterFit(s) { s.height = xH + (height - (zero + xH - canvasTop)); s.paddingLeft = 0; s.paddingRight = 0; },
          ticks: { autoSkip: false, maxRotation: 0, padding: 9, color: '#222', font: { size: 11, weight: 'bold', family: NARROW } },
          grid: { offset: true, drawOnChartArea: false, tickLength: 4, color: '#333', lineWidth: 1.2 },
          border: { color: '#333', width: 1.5 }
        },
        y: {
          min: ticks[0], max: ticks[ticks.length - 1],
          afterBuildTicks: (axis) => { axis.ticks = ticks.map((v) => ({ value: v })); },
          afterFit(s) { s.width = axisX - left; s.paddingTop = 0; s.paddingBottom = 0; },
          ticks: { autoSkip: false, padding: 3, color: '#222', font: { size: tickSize, weight: 'bold', family: NARROW }, callback: (v) => String(v) },
          grid: { drawOnChartArea: false, tickLength: 3, color: '#333', lineWidth: 1.2 },
          border: { color: '#333', width: 1.2 },
          title: { display: !!yTitle, text: yTitle, color: '#333', padding: { top: 0, bottom: 0 }, font: { size: 13.2, family: ARIAL } }
        },
        y2: spacerAxis(Math.max(width - (right - left), 0))
      }
    }
  });
}
const GREEN = '#12ba43', BLUE = '#5580c4', RED = '#fd0020';
const narrowTitle = { size: 14.5, weight: 'bold', family: NARROW };
const Y_TITLE = 'Relative gene expression';

geneChart({ first: true, yTitle: Y_TITLE, title: 'Ascl1', values: ascl1Values, ticks: ascl1Ticks, color: GREEN, axisX: 50, right: 187, top: 429, zero: 550.5, titleX: 119, titleY: 405, titleFont: narrowTitle, tickSize: 14 });
geneChart({ title: 'NeuroD1', values: neurod1Values, ticks: neurod1Ticks, color: GREEN, axisX: 267, right: 405, top: 428, zero: 550.5, titleX: 335, titleY: 405, titleFont: narrowTitle, tickSize: 14 });
geneChart({ title: 'Brn2', values: brn2Values, ticks: brn2Ticks, color: GREEN, axisX: 490, right: 620, top: 431, zero: 550, titleX: 556, titleY: 405, titleFont: narrowTitle, tickSize: 14 });

geneChart({ first: true, yTitle: '   ' + Y_TITLE, title: 'Dcx', values: dcxValues, ticks: dcxTicks, color: BLUE, axisX: 48, right: 150, top: 636, zero: 754, titleX: 98, titleY: 614, titleFont: narrowTitle, tickSize: 12.5 });
geneChart({ title: 'NeuN', values: neunValues, ticks: neunTicks, color: BLUE, axisX: 200, right: 302, top: 637, zero: 753, titleX: 254, titleY: 614, titleFont: narrowTitle, tickSize: 12.5 });
geneChart({ title: 'Syn2', values: syn2Values, ticks: syn2Ticks, color: BLUE, axisX: 356, right: 457, top: 633, zero: 752, titleX: 409, titleY: 612, titleFont: narrowTitle, tickSize: 12.5 });
geneChart({ title: 'Kcnip3', values: kcnip3Values, ticks: kcnip3Ticks, color: BLUE, axisX: 516, right: 619, top: 634, zero: 752, titleX: 566, titleY: 613, titleFont: narrowTitle, tickSize: 12.5 });
geneChart({ title: 'Pvalb', values: pvalbValues, ticks: pvalbTicks, color: BLUE, axisX: 674, right: 783, top: 633, zero: 751, titleX: 726, titleY: 610, titleFont: narrowTitle, tickSize: 12.5 });

geneChart({ first: true, yTitle: Y_TITLE, title: 'P75', values: p75Values, ticks: p75Ticks, color: RED, axisX: 49, right: 157, top: 833, zero: 957, titleX: 109, titleY: 818, titleFont: { size: 16, weight: 'bold', family: '"Liberation Serif", serif' }, tickSize: 13 });
geneChart({ title: 'S100b', values: s100bValues, ticks: s100bTicks, color: RED, axisX: 231, right: 338, top: 832, zero: 957, titleX: 286, titleY: 820, titleFont: narrowTitle, tickSize: 13 });
geneChart({ title: 'Fcgr3', values: fcgr3Values, ticks: fcgr3Ticks, color: RED, axisX: 412, right: 516, top: 837, zero: 957, titleX: 469, titleY: 820, titleFont: narrowTitle, tickSize: 13 });
geneChart({ title: 'VEGFA', values: vegfaValues, ticks: vegfaTicks, color: RED, axisX: 592, right: 696, top: 838, zero: 957, titleX: 651, titleY: 821, titleFont: narrowTitle, tickSize: 13 });

// panel letters
addText('A', 3, 10, 19);
addText('B', 361, 8, 19);
addText('C', 3, 398, 16);
addText('D', 3, 600, 16);
addText('E', 3, 802, 16);
</script>
</body>
</html>
